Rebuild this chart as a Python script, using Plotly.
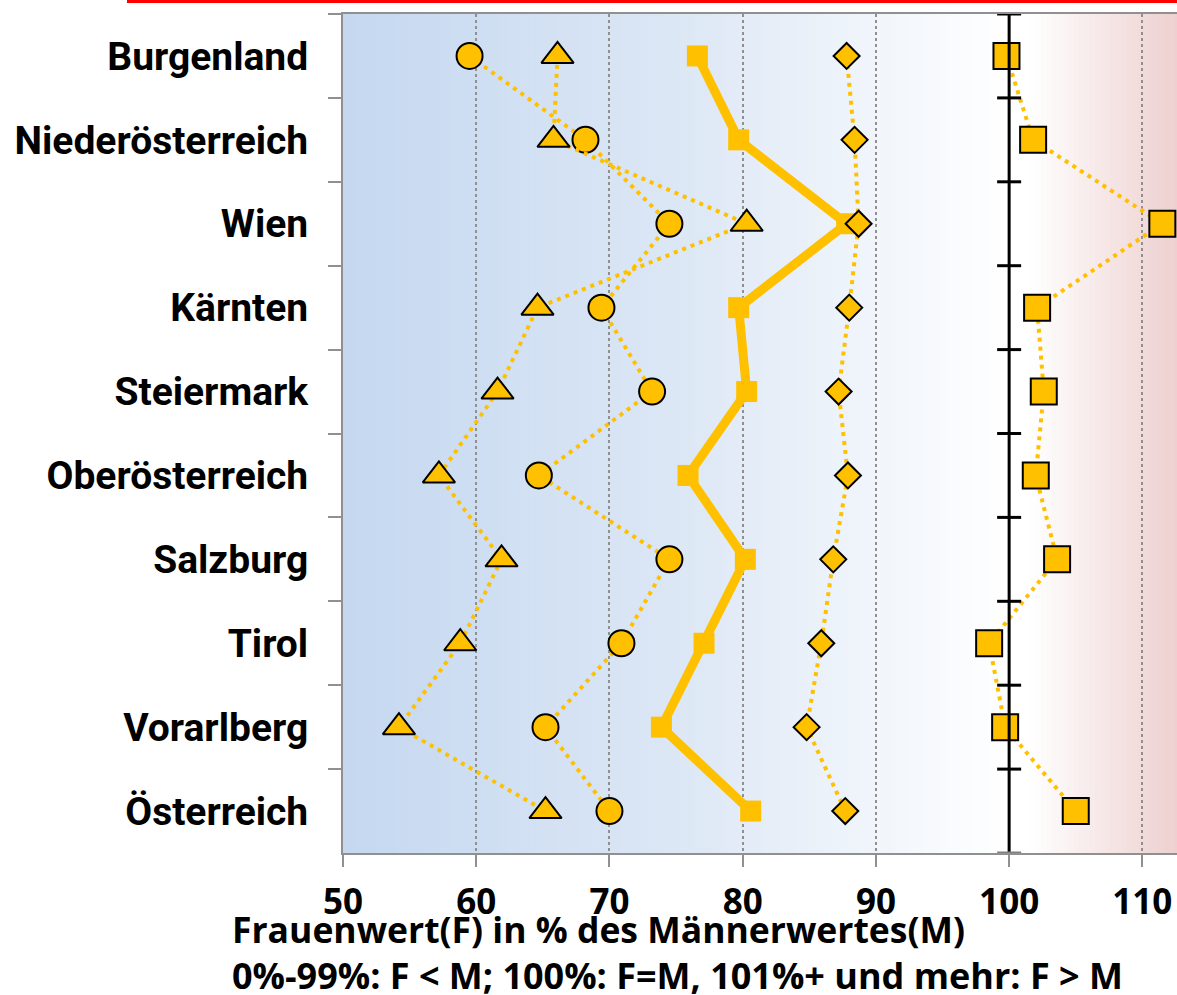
import plotly.graph_objects as go

regions = ["Burgenland", "Niederösterreich", "Wien", "Kärnten", "Steiermark",
           "Oberösterreich", "Salzburg", "Tirol", "Vorarlberg", "Österreich"]
circle_vals = [59.5, 68.2, 74.5, 69.4, 73.2, 64.7, 74.5, 70.9, 65.2, 70.0]
triangle_vals = [66.1, 65.8, 80.3, 64.6, 61.6, 57.2, 61.9, 58.8, 54.2, 65.2]
thick_vals = [76.6, 79.7, 87.8, 79.7, 80.3, 75.9, 80.2, 77.1, 73.9, 80.6]
diamond_vals = [87.8, 88.4, 88.7, 88.0, 87.2, 87.9, 86.8, 85.9, 84.8, 87.7]
square_vals = [99.8, 101.8, 111.5, 102.1, 102.6, 102.0, 103.6, 98.5, 99.7, 105.0]
x_ticks = [50, 60, 70, 80, 90, 100, 110]
title_line1 = "Frauenwert(F) in % des Männerwertes(M)"
title_line2 = "0%-99%: F < M; 100%: F=M, 101%+ und mehr: F > M"

GOLD = "#FFC000"
FONT_Y = "Roboto"
FONT_X = "Open Sans"
XMIN, XMAX = 50, 112.6
W, H = 1177, 995
ML, MT, MB = 343, 14, 142
PH = H - MT - MB
PW = W - ML

fig = go.Figure()

dotline = dict(color=GOLD, width=4, dash="4px,5px")
mline = dict(color="black", width=2)

fig.add_trace(go.Scatter(x=thick_vals, y=regions, mode="lines+markers",
                         line=dict(color=GOLD, width=9),
                         marker=dict(symbol="square", size=21, color=GOLD, line=dict(width=0)),
                         cliponaxis=False, showlegend=False))
fig.add_trace(go.Scatter(x=circle_vals, y=regions, mode="lines+markers", line=dotline,
                         marker=dict(symbol="circle", size=26, color=GOLD, line=mline),
                         cliponaxis=False, showlegend=False))
fig.add_trace(go.Scatter(x=triangle_vals, y=regions, mode="lines+markers", line=dotline,
                         marker=dict(symbol="triangle-up", size=28, color=GOLD, line=mline),
                         cliponaxis=False, showlegend=False))
fig.add_trace(go.Scatter(x=diamond_vals, y=regions, mode="lines+markers", line=dotline,
                         marker=dict(symbol="diamond", size=20, color=GOLD, line=mline),
                         cliponaxis=False, showlegend=False))
fig.add_trace(go.Scatter(x=square_vals, y=regions, mode="lines+markers", line=dotline,
                         marker=dict(symbol="square", size=26, color=GOLD, line=mline),
                         cliponaxis=False, showlegend=False))

# background gradient
stops = [(50, (197, 216, 240)), (75, (220, 231, 245)), (100, (255, 255, 255)),
         (101.5, (255, 255, 255)), (112.6, (238, 208, 208))]


def col_at(v):
    for (a, ca), (b, cb) in zip(stops[:-1], stops[1:]):
        if a <= v <= b:
            t = (v - a) / (b - a) if b > a else 0
            c = [round(ca[k] + (cb[k] - ca[k]) * t) for k in range(3)]
            return "rgb(%d,%d,%d)" % tuple(c)
    return "rgb(%d,%d,%d)" % stops[-1][1]


shapes = []
step = 0.4
v = XMIN
while v < XMAX:
    shapes.append(dict(type="rect", xref="x", yref="paper", x0=v, x1=min(v + step + 0.05, XMAX),
                       y0=0, y1=1, fillcolor=col_at(v + step / 2), line=dict(width=0),
                       layer="below"))
    v += step

# black reference line at 100
shapes.append(dict(type="line", xref="x", yref="paper", x0=100, x1=100, y0=0, y1=1,
                   line=dict(color="black", width=3), layer="above"))
for i in range(len(regions) + 1):
    shapes.append(dict(type="line", xref="x", yref="y", xsizemode="pixel", xanchor=100,
                       x0=-12, x1=12, y0=i - 0.5, y1=i - 0.5,
                       line=dict(color="black" if i < len(regions) else "gray", width=3),
                       layer="above"))

# red line at top
shapes.append(dict(type="line", xref="paper", yref="paper", x0=(127 - ML) / PW, x1=1.0,
                   y0=1 + (MT - 1.5) / PH, y1=1 + (MT - 1.5) / PH,
                   line=dict(color="#FF0000", width=3)))

fig.update_layout(
    width=W, height=H,
    margin=dict(l=ML, r=0, t=MT, b=MB),
    paper_bgcolor="white", plot_bgcolor="white",
    shapes=shapes,
    font=dict(family=FONT_X, color="black"),
    xaxis=dict(range=[XMIN, XMAX], tickvals=x_ticks, showgrid=True,
               gridcolor="#909090", griddash="dot", gridwidth=1.5,
               showline=True, linecolor="#909090", linewidth=2, mirror=True,
               ticks="outside", ticklen=12, tickwidth=2, tickcolor="#909090",
               ticklabelstandoff=5,
               tickfont=dict(size=35, weight="bold", family=FONT_X), zeroline=False),
    yaxis=dict(type="category", categoryorder="array", categoryarray=regions,
               range=[9.5, -0.5], tickson="boundaries", ticks="outside", ticklen=13,
               tickwidth=2, tickcolor="#909090", showline=True, linecolor="#909090",
               linewidth=2, showgrid=False, ticklabelstandoff=25,
               tickfont=dict(size=39, weight="bold", family=FONT_Y)),
    annotations=[
        dict(text=title_line1, xref="paper", yref="paper", x=(230 - ML) / PW,
             y=(H - MB - 929) / PH, xanchor="left", yanchor="middle", showarrow=False,
             font=dict(size=35.5, weight="bold", family=FONT_X)),
        dict(text=title_line2, xref="paper", yref="paper", x=(230 - ML) / PW,
             y=(H - MB - 975) / PH, xanchor="left", yanchor="middle", showarrow=False,
             font=dict(size=36, weight="bold", family=FONT_X)),
    ],
)

fig.write_html("out.html", post_script="document.body.style.margin='0';",
               config={"displayModeBar": False})
